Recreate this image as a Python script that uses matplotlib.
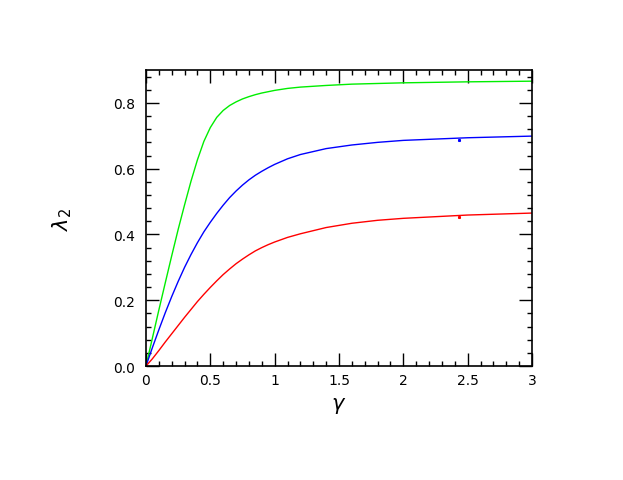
import matplotlib
matplotlib.use("Agg")
import matplotlib.pyplot as plt
from matplotlib.ticker import MultipleLocator

# values
gamma = [0.0, 0.05, 0.1, 0.15, 0.2, 0.25, 0.3, 0.35, 0.4, 0.45, 0.5,
         0.55, 0.6, 0.65, 0.7, 0.75, 0.8, 0.85, 0.9, 0.95, 1.0,
         1.1, 1.2, 1.4, 1.6, 1.8, 2.0, 2.5, 3.0]

lam_green = [0.0, 0.085, 0.17, 0.253, 0.335, 0.415, 0.49, 0.562, 0.627, 0.683, 0.725,
             0.756, 0.777, 0.792, 0.803, 0.812, 0.819, 0.825, 0.83, 0.834, 0.838,
             0.844, 0.848, 0.853, 0.857, 0.859, 0.861, 0.864, 0.866]

lam_blue = [0.0, 0.056, 0.11, 0.162, 0.211, 0.257, 0.30, 0.339, 0.375, 0.408, 0.437,
            0.464, 0.489, 0.512, 0.532, 0.55, 0.566, 0.58, 0.592, 0.603, 0.613,
            0.63, 0.643, 0.661, 0.672, 0.68, 0.686, 0.694, 0.699]

lam_red = [0.0, 0.022, 0.047, 0.073, 0.098, 0.123, 0.148, 0.172, 0.196, 0.218, 0.239,
           0.259, 0.278, 0.295, 0.311, 0.325, 0.338, 0.35, 0.36, 0.369, 0.377,
           0.391, 0.402, 0.421, 0.434, 0.443, 0.449, 0.459, 0.465]

# the two small points near gamma = 2.44
pt_x = [2.435, 2.435]
pt_y = [0.688, 0.454]
pt_c = ["blue", "red"]


def main():
    fig = plt.figure(figsize=(6.23, 4.81), dpi=100)
    ax = fig.add_axes([0.2343, 0.237, 0.6197, 0.6154])

    ax.plot(gamma, lam_green, color="#00ee00", lw=1.0)
    ax.plot(gamma, lam_blue, color="blue", lw=1.0)
    ax.plot(gamma, lam_red, color="red", lw=1.0)
    for x, y, c in zip(pt_x, pt_y, pt_c):
        ax.plot([x], [y], marker="s", ms=1.2, color=c, ls="none")

    ax.set_xlim(0, 3)
    ax.set_ylim(0, 0.9)
    ax.xaxis.set_minor_locator(MultipleLocator(0.1))
    ax.yaxis.set_minor_locator(MultipleLocator(0.04))
    ax.set_xticks([0, 0.5, 1, 1.5, 2, 2.5, 3])
    ax.set_xticklabels(["0", "0.5", "1", "1.5", "2", "2.5", "3"])
    ax.set_yticks([0, 0.2, 0.4, 0.6, 0.8])
    ax.set_yticklabels(["0.0", "0.2", "0.4", "0.6", "0.8"])

    ax.tick_params(which="both", direction="in", top=True, right=True,
                   width=1.0, color="black")
    ax.tick_params(which="major", length=9.4)
    ax.tick_params(which="minor", length=3.6)
    ax.tick_params(axis="x", pad=5, labelsize=10)
    ax.tick_params(axis="y", pad=8, labelsize=10)
    for s in ax.spines.values():
        s.set_linewidth(1.2)

    ax.set_xlabel(r"$\gamma$", fontsize=15, labelpad=6)
    ax.set_ylabel(r"$\lambda_2$", fontsize=15, labelpad=28)

    fig.savefig("out.png", dpi=100)


if __name__ == '__main__':
    main()
